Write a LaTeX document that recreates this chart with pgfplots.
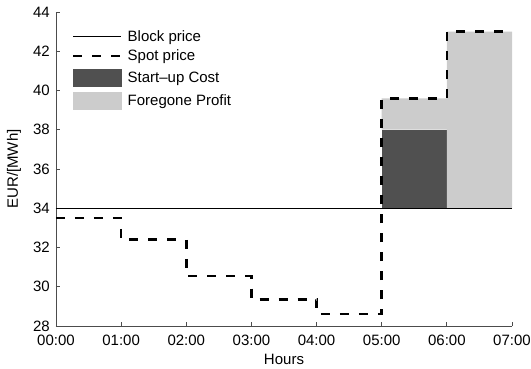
\documentclass[border=0pt]{standalone}
\usepackage{fontspec}
\setmainfont{Liberation Sans}
\usepackage{pgfplots}
\pgfplotsset{compat=1.18}
\definecolor{startup}{RGB}{80,80,80}
\definecolor{forgone}{RGB}{204,204,204}
\newcommand{\fs}{\fontsize{15bp}{18bp}\selectfont}
\begin{document}
\begin{tikzpicture}
\useasboundingbox (-56bp,-43bp) rectangle (475bp,326bp);
\begin{axis}[
  at={(0,0)}, anchor=south west,
  scale only axis,
  width=456bp, height=314bp,
  xmin=0, xmax=7, ymin=28, ymax=44,
  axis x line*=bottom, axis y line*=left,
  axis line style={-, black!70, line width=0.8bp},
  tick style={black!70, line width=0.8bp},
  tick align=inside,
  major tick length=4bp,
  xtick={0,1,...,7},
  xticklabels={00:00,01:00,02:00,03:00,04:00,05:00,06:00,07:00},
  ytick={28,30,...,44},
  /pgf/number format/assume math mode=true,
  tick label style={font=\fs},
  xticklabel style={inner sep=0pt, yshift=-9bp},
  yticklabel style={inner sep=0pt, xshift=-6bp},
  xlabel={Hours}, ylabel={EUR/[MWh]},
  label style={font=\fs},
  xlabel style={at={(axis description cs:0.5,0)}, anchor=center, yshift=-33bp},
  ylabel style={at={(axis description cs:0,0.5)}, anchor=center, yshift=42bp},
  legend style={draw=none, fill=none, at={(16bp,297bp)}, anchor=north west, font=\fs,
    row sep=5.5bp, inner sep=0bp, nodes={inner sep=1bp}},
  legend cell align=left,
  legend image code/.code={\draw[#1] (0bp,0bp) -- (48bp,0bp); \path (52bp,0bp);},
]
% fills
\addplot[fill=startup, draw=none, forget plot] coordinates {(5,34) (6,34) (6,38) (5,38)} -- cycle;
\addplot[fill=forgone, draw=none, forget plot] coordinates {(5,38) (6,38) (6,34) (7,34) (7,43) (6,43) (6,39.6) (5,39.6)} -- cycle;
% lines
\addplot[black, line width=0.8bp] coordinates {(0,34) (7,34)};
\addlegendentry{Block price}
\addplot[black, line width=2.5bp, dash pattern=on 9bp off 10bp, const plot] coordinates {
(0,33.5) (1,32.4) (2,30.55) (3,29.35) (4,28.6) (5,39.6) (6,43) (7,43)};
\addlegendentry{Spot price}
\addlegendimage{legend image code/.code={\fill[startup] (0bp,-8.5bp) rectangle (48bp,8.5bp); \path (52bp,0bp);}}
\addlegendentry{Start\textendash up Cost}
\addlegendimage{legend image code/.code={\fill[forgone] (0bp,-8.5bp) rectangle (48bp,8.5bp); \path (52bp,0bp);}}
\addlegendentry{Foregone Profit}
\end{axis}
\end{tikzpicture}
\end{document}
